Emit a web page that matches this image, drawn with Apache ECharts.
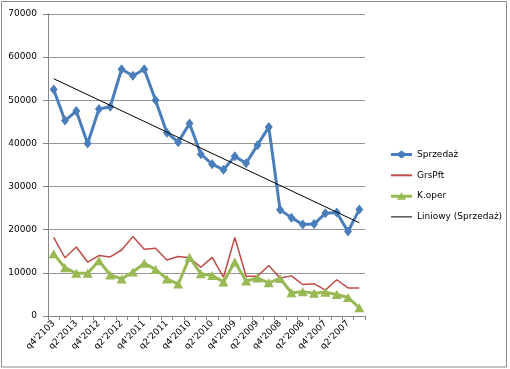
<!DOCTYPE html>
<html>
<head>
<meta charset="utf-8">
<script src="https://cdn.jsdelivr.net/npm/echarts@6/dist/echarts.min.js"></script>
<style>
html,body{margin:0;padding:0;background:#fff;}
#c{width:510px;height:369px;}
</style>
</head>
<body>
<div id="c"></div>
<script>
var categories = ["q4'2103","q3'2013","q2'2013","q1'2013","q4'2012","q3'2012","q2'2012","q1'2012",
  "q4'2011","q3'2011","q2'2011","q1'2011","q4'2010","q3'2010","q2'2010","q1'2010",
  "q4'2009","q3'2009","q2'2009","q1'2009","q4'2008","q3'2008","q2'2008","q1'2008",
  "q4'2007","q3'2007","q2'2007","q1'2007"];
var sprzedaz = [52500,45300,47500,40000,48000,48500,57200,55700,57200,50000,42500,40300,44600,37500,
  35200,33900,37000,35400,39600,43800,24600,22800,21200,21300,23800,24000,19600,24700];
var grsPft = [18200,13500,16000,12500,14000,13700,15300,18400,15500,15700,13000,13800,13500,11300,
  13600,9000,18200,9200,9200,11700,8800,9300,7300,7500,6000,8400,6500,6500];
var kOper = [14400,11200,9900,9900,12800,9500,8600,10200,12200,10800,8600,7400,13600,9800,
  9400,7900,12500,8100,8800,7700,8700,5400,5600,5300,5500,5000,4300,1900];
// linear trend (Liniowy) read at first and last category
var trendEnds = [55000, 21600];
var yTicks = [0,10000,20000,30000,40000,50000,60000,70000];

var trendData = categories.map(function(c,i){
  if(i===0) return trendEnds[0];
  if(i===categories.length-1) return trendEnds[1];
  return null;
});

var FONT = 'DejaVu Sans';
var ICON_DIAMOND = 'path://M0,3.5 L7,3.5 L10.5,1 L14,3.5 L21,3.5 L21,6.5 L14,6.5 L10.5,9 L7,6.5 L0,6.5 Z';
var ICON_TRI = 'path://M0,3.5 L21,3.5 L21,6.5 L0,6.5 Z M10.5,1 L15,8.5 L6,8.5 Z';
var ICON_LINE2 = 'path://M0,0 L21,0 L21,2 L0,2 Z';
var ICON_LINE1 = 'path://M0,0 L21,0 L21,1 L0,1 Z';

var chart = echarts.init(document.getElementById('c'));
chart.setOption({
  animation:false,
  textStyle:{fontFamily:FONT},
  graphic:[{type:'rect',shape:{x:1.5,y:1.5,width:505,height:365.5},
    style:{fill:null,stroke:'#8c8c8c',lineWidth:1},silent:true}],
  grid:{left:48,top:14,width:317,height:302,containLabel:false},
  legend:{
    orient:'vertical',left:386,top:145,itemWidth:21,itemHeight:10,itemGap:11.8,
    textStyle:{fontFamily:FONT,fontSize:9,color:'#000'},
    data:[{name:'Sprzedaż',icon:ICON_DIAMOND},{name:'GrsPft',icon:ICON_LINE2},
          {name:'K.oper',icon:ICON_TRI},{name:'Liniowy (Sprzedaż)',icon:ICON_LINE1}]
  },
  xAxis:{
    type:'category',data:categories,boundaryGap:true,
    axisLine:{lineStyle:{color:'#868686',width:1}},
    axisTick:{show:true,interval:0,length:4,inside:false,lineStyle:{color:'#868686'}},
    axisLabel:{interval:1,rotate:45,fontFamily:FONT,fontSize:9,color:'#000',margin:6},
    splitLine:{show:false}
  },
  yAxis:{
    type:'value',min:yTicks[0],max:yTicks[yTicks.length-1],interval:10000,
    axisLine:{show:true,lineStyle:{color:'#868686',width:1}},
    axisTick:{show:true,length:5,lineStyle:{color:'#868686'}},
    axisLabel:{fontFamily:FONT,fontSize:9,color:'#000',margin:11,
      formatter:function(v){return String(v);}},
    splitLine:{show:true,lineStyle:{color:'#969696',width:1}}
  },
  series:[
    {name:'Sprzedaż',type:'line',data:sprzedaz,symbol:'diamond',symbolSize:[8,10],
      showSymbol:true,showAllSymbol:true,
      lineStyle:{color:'#4a7ebb',width:3},itemStyle:{color:'#4a7ebb'},z:4},
    {name:'GrsPft',type:'line',data:grsPft,symbol:'none',
      lineStyle:{color:'#be4b48',width:1.5},itemStyle:{color:'#be4b48'},z:3},
    {name:'K.oper',type:'line',data:kOper,symbol:'triangle',symbolSize:[10,9],
      showSymbol:true,showAllSymbol:true,
      lineStyle:{color:'#98b954',width:3},itemStyle:{color:'#98b954'},z:3},
    {name:'Liniowy (Sprzedaż)',type:'line',data:trendData,connectNulls:true,symbol:'none',
      lineStyle:{color:'#000',width:1},itemStyle:{color:'#000'},z:5}
  ]
});
</script>
</body>
</html>
